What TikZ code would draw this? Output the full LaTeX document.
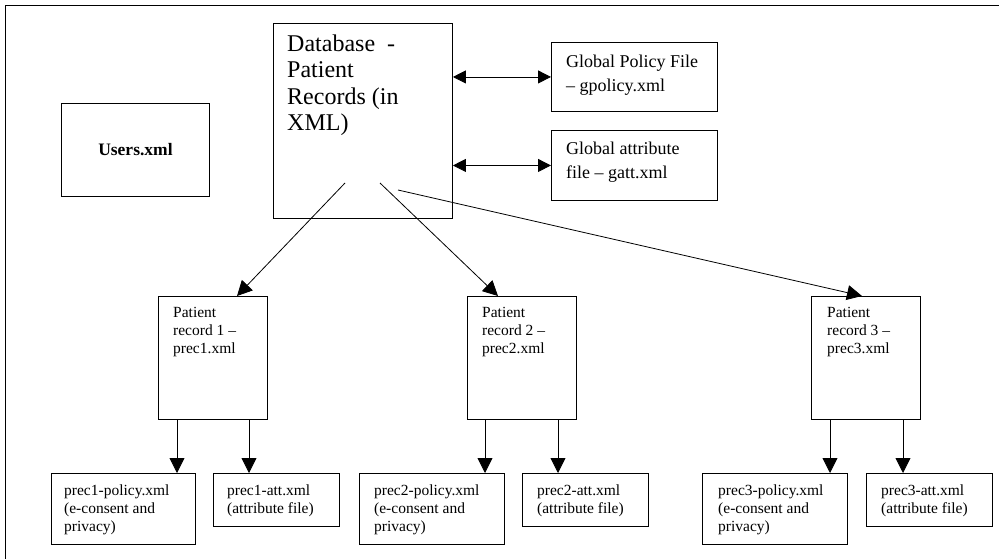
\documentclass[tikz,border=0pt]{standalone}
\usepackage{fontspec}
\setmainfont{Liberation Serif}
\usetikzlibrary{arrows.meta}
\tikzset{
  box/.style={draw=black, line width=0.9pt, inner sep=0pt},
  txt/.style={anchor=north west, inner sep=0pt, align=left},
  arr/.style={line width=0.8pt, -{Triangle[length=15pt,width=15pt]}},
  darr/.style={line width=0.8pt, {Triangle[length=13pt,width=13pt]}-{Triangle[length=13pt,width=13pt]}},
  thin/.style={line width=0.8pt},
  big/.style={font=\fontsize{24pt}{26.5pt}\selectfont},
  mid/.style={font=\fontsize{18pt}{24pt}\selectfont},
  sm/.style={font=\fontsize{15.5pt}{18pt}\selectfont},
}
\begin{document}
\begin{tikzpicture}[x=1pt,y=-1pt]
\useasboundingbox (0,0) rectangle (999,559);
% frame (cropped)
\coordinate (fr1) at (999,5);
\coordinate (fr0) at (5,5);
\coordinate (fr2) at (5,559);
\draw[thin] (fr1) -- (fr0) -- (fr2);

% boxes
\node[box, minimum width=148pt, minimum height=93pt, anchor=north west, font=\bfseries\fontsize{17.5pt}{18pt}\selectfont] (users) at (61,103) {Users.xml};
\node[box, minimum width=179pt, minimum height=195pt, anchor=north west] (db) at (273,23) {};
\node[box, minimum width=166pt, minimum height=69pt, anchor=north west] (gpol) at (551,42) {};
\node[box, minimum width=166pt, minimum height=70pt, anchor=north west] (gatt) at (551,130) {};
\node[box, minimum width=109pt, minimum height=123pt, anchor=north west] (pr1) at (158,296) {};
\node[box, minimum width=109pt, minimum height=123pt, anchor=north west] (pr2) at (467,296) {};
\node[box, minimum width=109pt, minimum height=123pt, anchor=north west] (pr3) at (811,296) {};
\node[box, minimum width=144pt, minimum height=71pt, anchor=north west] (p1pol) at (51,473) {};
\node[box, minimum width=126pt, minimum height=53pt, anchor=north west] (p1att) at (213,473) {};
\node[box, minimum width=145pt, minimum height=71pt, anchor=north west] (p2pol) at (359,473) {};
\node[box, minimum width=126pt, minimum height=53pt, anchor=north west] (p2att) at (522,473) {};
\node[box, minimum width=145pt, minimum height=71pt, anchor=north west] (p3pol) at (702,473) {};
\node[box, minimum width=126pt, minimum height=53pt, anchor=north west] (p3att) at (866,473) {};

% texts
\node[txt, big] (dbt) at (287,34.5) {Database\ \ -\\Patient\\Records (in\\XML)};
\node[txt, mid] (gpolt) at (566,54.6) {Global Policy File\\– gpolicy.xml};
\node[txt, mid] (gattt) at (566,141.6) {Global attribute\\file – gatt.xml};
\node[txt, sm] (pr1t) at (173,307.3) {Patient\\record 1 –\\prec1.xml};
\node[txt, sm] (pr2t) at (482,307.3) {Patient\\record 2 –\\prec2.xml};
\node[txt, sm] (pr3t) at (827,307.3) {Patient\\record 3 –\\prec3.xml};
\node[txt, sm] (p1polt) at (64,484.3) {prec1-policy.xml\\(e-consent and\\privacy)};
\node[txt, sm] (p1attt) at (227,484.3) {prec1-att.xml\\(attribute file)};
\node[txt, sm] (p2polt) at (374,484.3) {prec2-policy.xml\\(e-consent and\\privacy)};
\node[txt, sm] (p2attt) at (537,484.3) {prec2-att.xml\\(attribute file)};
\node[txt, sm] (p3polt) at (718,484.3) {prec3-policy.xml\\(e-consent and\\privacy)};
\node[txt, sm] (p3attt) at (881,484.3) {prec3-att.xml\\(attribute file)};

% double arrows
\draw[darr] (db.east |- gpol.west) -- (gpol.west);
\draw[darr] (db.east |- gatt.west) -- (gatt.west);

% diagonal connectors from inside database box
\coordinate (d1) at (345,183);
\coordinate (d2) at (380,183);
\coordinate (d3) at (398,190);
\draw[arr] (d1) -- ([xshift=79pt]pr1.north west);
\draw[arr] (d2) -- ([xshift=31pt]pr2.north west);
\draw[arr] (d3) -- ([xshift=51pt]pr3.north west);

% vertical arrows
\draw[arr] ([xshift=19pt]pr1.south west) -- ([xshift=19pt]pr1.south west |- p1pol.north);
\draw[arr] ([xshift=91pt]pr1.south west) -- ([xshift=91pt]pr1.south west |- p1att.north);
\draw[arr] ([xshift=18pt]pr2.south west) -- ([xshift=18pt]pr2.south west |- p2pol.north);
\draw[arr] ([xshift=91pt]pr2.south west) -- ([xshift=91pt]pr2.south west |- p2att.north);
\draw[arr] ([xshift=19pt]pr3.south west) -- ([xshift=19pt]pr3.south west |- p3pol.north);
\draw[arr] ([xshift=92pt]pr3.south west) -- ([xshift=92pt]pr3.south west |- p3att.north);
\end{tikzpicture}
\end{document}
